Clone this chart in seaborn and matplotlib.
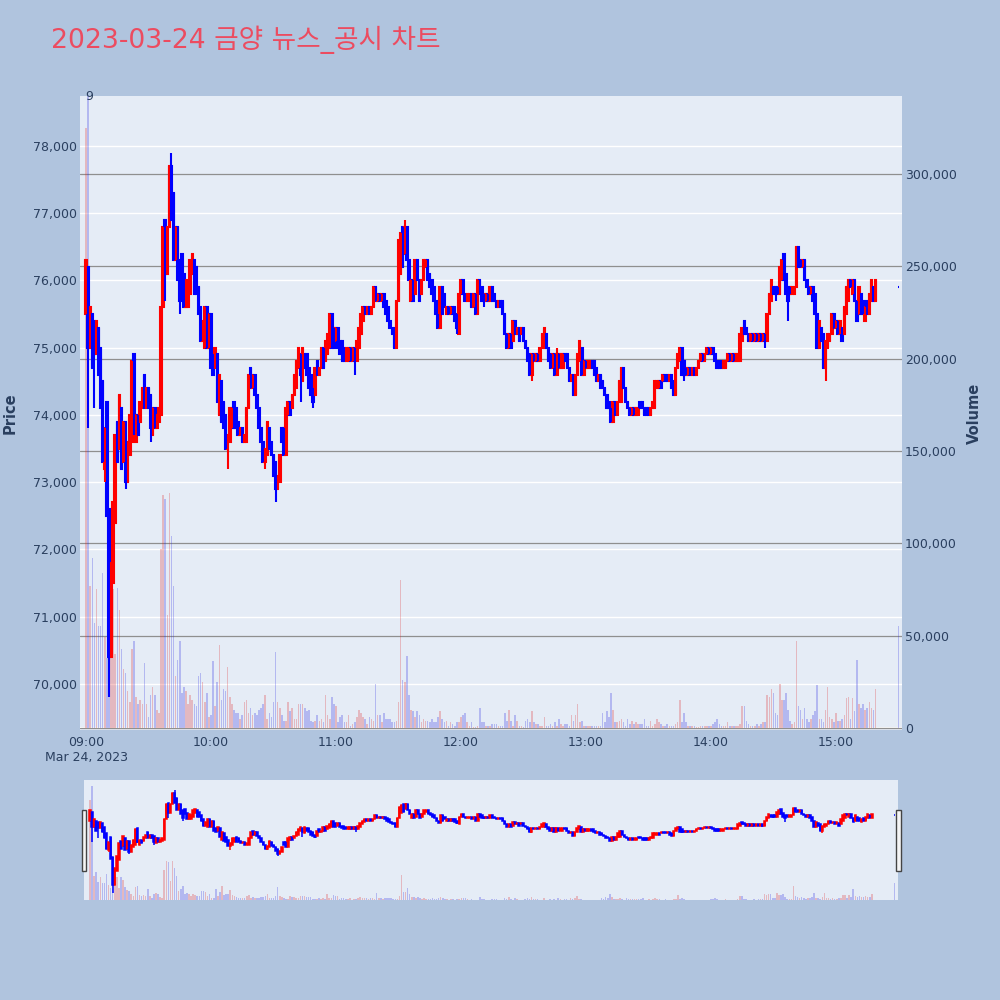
import numpy as np
import pandas as pd
import matplotlib.pyplot as plt
from matplotlib.patches import Rectangle
from matplotlib.ticker import FuncFormatter
import seaborn as sns

title = '2023-03-24 금양 뉴스_공시 차트'

# 분 인덱스 (0 = 09:00, 379 = 15:19, 390 = 15:30 종가 단일가)
minutes = list(range(380)) + [390]

opens = [
    75500, 76200, 75000, 75500, 75400, 74900, 75300, 75000, 74500, 73200,
    74200, 72600, 70400, 71500, 72400, 73900, 73500, 74100, 73300, 73900,
    73000, 73400, 73600, 74900, 73600, 74000, 73900, 74100, 74600, 74100,
    74400, 74300, 73700, 74100, 73800, 73900, 74000, 75600, 76900, 76100,
    76800, 77700, 77300, 76300, 76800, 76300, 76400, 76100, 75600, 75600,
    75800, 76100, 76300, 76200, 75900, 75600, 75100, 75000, 75600, 75000,
    75500, 74900, 74700, 74900, 74000, 74500, 74200, 74000, 73500, 73600,
    73800, 74200, 74100, 73900, 73700, 73800, 73600, 73600, 74100, 74700,
    74400, 74600, 74300, 74100, 73800, 73600, 73300, 73400, 73800, 73600,
    73400, 73300, 72900, 73000, 73800, 73800, 73400, 74000, 74200, 74100,
    74300, 74400, 74700, 74900, 74500, 74900, 74900, 74700, 74600, 74400,
    74300, 74800, 74600, 74700, 75000, 74800, 74900, 75000, 75500, 75300,
    75100, 75300, 75100, 75100, 75000, 74800, 74800, 75000, 74800, 75000,
    74800, 75000, 75200, 75400, 75600, 75500, 75600, 75500, 75600, 75900,
    75700, 75800, 75700, 75800, 75700, 75600, 75400, 75300, 75300, 75000,
    75700, 76100, 76800, 76400, 76800, 76300, 75700, 76000, 75800, 76300,
    76000, 75800, 76000, 76200, 76300, 76100, 76000, 75900, 75700, 75500,
    75300, 75900, 75800, 75500, 75600, 75500, 75600, 75600, 75500, 75200,
    75800, 76000, 75800, 75700, 75700, 75800, 75600, 75800, 75500, 76000,
    75900, 75800, 75700, 75800, 75700, 75900, 75800, 75700, 75600, 75700,
    75700, 75500, 75200, 75000, 75200, 75100, 75400, 75200, 75300, 75200,
    75300, 75100, 75000, 74900, 74600, 74900, 74800, 74900, 74800, 75000,
    75000, 75200, 75000, 74900, 74700, 74900, 74600, 74900, 74700, 74700,
    74900, 74900, 74700, 74500, 74600, 74300, 74600, 74800, 75000, 74600,
    74800, 74700, 74700, 74800, 74800, 74700, 74500, 74600, 74500, 74400,
    74300, 74200, 74100, 73900, 74200, 74000, 74200, 74200, 74700, 74400,
    74200, 74100, 74000, 74100, 74000, 74000, 74200, 74200, 74100, 74100,
    74100, 74000, 74100, 74100, 74400, 74400, 74500, 74500, 74600, 74600,
    74500, 74600, 74500, 74300, 74700, 74800, 75000, 74800, 74700, 74600,
    74700, 74600, 74700, 74600, 74700, 74800, 74900, 74800, 74900, 75000,
    74900, 75000, 74900, 74800, 74800, 74800, 74700, 74700, 74800, 74900,
    74800, 74900, 74800, 74800, 74800, 75100, 75400, 75300, 75200, 75100,
    75200, 75100, 75200, 75100, 75200, 75100, 75200, 75100, 75500, 75700,
    75900, 75900, 75900, 75800, 76000, 76400, 76100, 75900, 75900, 75800,
    75800, 75900, 76500, 76300, 76200, 76300, 76000, 75900, 75800, 75900,
    75800, 75500, 75000, 75300, 75200, 74700, 75000, 75100, 75200, 75500,
    75300, 75400, 75200, 75300, 75200, 75500, 75700, 76000, 75800, 76000,
    75700, 75500, 75800, 75700, 75400, 75700, 75500, 75700, 75900, 75700,
    75900,
]
closes = [
    76300, 75000, 75600, 74700, 74900, 75400, 74600, 74100, 73300, 73800,
    72500, 70400, 71800, 72700, 73700, 73300, 74300, 73200, 73900, 73000,
    73600, 74000, 74800, 73800, 74000, 73700, 74200, 74400, 74100, 74400,
    74100, 73800, 74100, 73800, 74000, 74100, 75600, 76800, 76100, 76800,
    77700, 76900, 76300, 76800, 76000, 75700, 76000, 75600, 76000, 75900,
    76300, 76400, 75800, 75800, 75500, 75100, 75400, 75600, 75000, 75500,
    74700, 74600, 75000, 74200, 74600, 73900, 73800, 73500, 73700, 74100,
    74100, 73800, 73800, 73700, 73800, 73600, 73700, 74100, 74600, 74400,
    74600, 74300, 74100, 73800, 73600, 73300, 73500, 73900, 73500, 73400,
    73100, 72900, 73100, 73400, 73600, 73400, 74100, 74200, 74000, 74300,
    74600, 74800, 75000, 74600, 75000, 74700, 74600, 74400, 74300, 74200,
    74700, 74600, 74700, 75000, 74700, 75100, 75200, 75500, 75000, 75000,
    75300, 75000, 74900, 74800, 74800, 75000, 75000, 74800, 75000, 74800,
    75100, 75300, 75500, 75600, 75500, 75600, 75500, 75600, 75900, 75700,
    75800, 75700, 75800, 75600, 75500, 75400, 75300, 75200, 75000, 75700,
    76600, 76700, 76200, 76800, 76300, 76000, 76000, 75700, 76300, 76000,
    75700, 76000, 76300, 76300, 76000, 75900, 75800, 75700, 75500, 75300,
    75900, 75500, 75600, 75600, 75500, 75600, 75500, 75400, 75300, 75800,
    76000, 75800, 75700, 75800, 75800, 75600, 75800, 75500, 76000, 75800,
    75700, 75700, 75800, 75700, 75900, 75700, 75700, 75600, 75700, 75600,
    75500, 75200, 75000, 75200, 75000, 75400, 75200, 75300, 75100, 75300,
    75100, 75000, 74800, 74600, 74900, 74800, 74900, 74800, 75000, 75200,
    75300, 75000, 74800, 74700, 74900, 74600, 74900, 74700, 74900, 74900,
    74800, 74700, 74500, 74600, 74300, 74600, 74900, 75100, 74600, 74800,
    74700, 74800, 74800, 74700, 74600, 74500, 74600, 74400, 74400, 74300,
    74100, 74100, 73900, 74200, 74000, 74200, 74500, 74700, 74400, 74200,
    74100, 74000, 74100, 74000, 74100, 74100, 74100, 74100, 74000, 74000,
    74000, 74100, 74200, 74500, 74500, 74500, 74400, 74600, 74500, 74500,
    74600, 74400, 74300, 74700, 74900, 75000, 74600, 74600, 74600, 74700,
    74600, 74700, 74600, 74700, 74800, 74900, 74800, 74900, 75000, 74900,
    75000, 74900, 74800, 74700, 74700, 74700, 74800, 74800, 74900, 74800,
    74900, 74800, 74900, 74900, 75200, 75300, 75200, 75200, 75100, 75200,
    75100, 75200, 75100, 75200, 75100, 75200, 75100, 75500, 75800, 76000,
    75800, 75800, 75800, 76200, 76300, 76000, 75800, 75700, 75800, 75900,
    75900, 76500, 76200, 76200, 76300, 76000, 75900, 75800, 75900, 75700,
    75500, 75000, 75400, 75100, 74700, 75100, 75200, 75200, 75500, 75300,
    75400, 75200, 75400, 75100, 75600, 75900, 76000, 75900, 76000, 75700,
    75400, 75900, 75500, 75500, 75600, 75500, 75800, 76000, 75700, 76000,
    75900,
]
# 몸통 밖으로 나온 꼬리
wick_high = {41: 77900, 153: 76900, 226: 75000, 316: 75400}
wick_low = {1: 73800, 4: 74100, 9: 73000, 11: 69800, 19: 72900, 23: 73700,
            31: 73600, 38: 75700, 45: 75500, 68: 73200, 86: 73200, 91: 72700,
            103: 74200, 109: 74100, 129: 74600, 178: 75200, 191: 75600,
            214: 74500, 287: 74500, 326: 75000, 331: 75700, 337: 75400,
            355: 74500}
# 거래량 (천 주)
volume_k = [
    325, 370, 77, 92, 57, 75, 55, 55, 84, 49,
    38, 68, 50, 75, 40, 76, 64, 43, 32, 30,
    20, 14, 43, 47, 17, 13, 15, 13, 35, 13,
    6, 18, 22, 18, 10, 8, 97, 126, 124, 61,
    127, 104, 77, 28, 37, 47, 19, 22, 20, 13,
    18, 15, 13, 12, 28, 30, 25, 14, 19, 6,
    7, 36, 12, 25, 45, 15, 21, 20, 33, 17,
    13, 10, 8, 8, 5, 7, 14, 15, 8, 11,
    7, 8, 7, 10, 11, 13, 18, 5, 8, 6,
    14, 41, 14, 11, 7, 4, 4, 14, 9, 11,
    5, 5, 13, 13, 13, 11, 9, 10, 4, 3,
    4, 7, 4, 5, 3, 18, 7, 5, 17, 13,
    12, 3, 6, 7, 3, 3, 7, 1, 2, 3,
    6, 10, 8, 6, 5, 2, 6, 5, 4, 24,
    7, 7, 3, 8, 5, 5, 5, 3, 3, 4,
    14, 80, 26, 25, 39, 18, 10, 9, 6, 9,
    7, 3, 5, 4, 4, 3, 5, 3, 3, 6,
    9, 5, 3, 4, 1, 3, 2, 1, 3, 3,
    6, 7, 8, 3, 1, 3, 0.5, 0.5, 1, 11,
    3, 3, 1, 1, 1, 2, 2, 2, 1, 1,
    1, 8, 4, 10, 4, 1, 7, 4, 1, 1,
    0.5, 4, 5, 3, 9, 3, 2, 2, 1, 1,
    6, 1, 1, 2, 1, 3, 1, 5, 2, 1,
    2, 2, 1, 7, 4, 7, 13, 3, 4, 1,
    1, 1, 1, 1, 1, 1, 1, 1, 8, 3,
    9, 6, 19, 10, 3, 3, 4, 5, 3, 1,
    5, 2, 4, 2, 3, 2, 2, 2, 5, 1,
    1, 4, 1, 2, 5, 3, 2, 1, 1, 2,
    1, 1, 1, 2, 3, 15, 3, 8, 3, 1,
    1, 1, 1, 0.5, 0.5, 1, 1, 1, 1, 1,
    1, 2, 3, 5, 2, 1, 1, 1, 3, 1,
    1, 1, 1, 1, 2, 12, 12, 4, 2, 1,
    1, 1, 2, 1, 2, 3, 3, 18, 17, 21,
    19, 8, 7, 24, 15, 15, 19, 10, 4, 2,
    3, 47, 12, 10, 5, 11, 5, 3, 5, 7,
    9, 23, 5, 5, 3, 10, 22, 6, 5, 3,
    8, 4, 4, 5, 7, 16, 17, 5, 16, 9,
    37, 13, 11, 13, 10, 11, 14, 11, 10, 21,
    55,
]

time_ticks = [0, 60, 120, 180, 240, 300, 360]
time_labels = ['09:00\nMar 24, 2023', '10:00', '11:00', '12:00', '13:00', '14:00', '15:00']
price_ticks = [70000, 71000, 72000, 73000, 74000, 75000, 76000, 77000, 78000]
volume_ticks = [0, 50000, 100000, 150000, 200000, 250000, 300000]

df = pd.DataFrame({'minute': minutes, 'open': opens, 'close': closes})
df['volume'] = np.array(volume_k) * 1000
df['high'] = df[['open', 'close']].max(axis=1)
df['low'] = df[['open', 'close']].min(axis=1)
for m, v in wick_high.items():
    df.loc[df['minute'] == m, 'high'] = v
for m, v in wick_low.items():
    df.loc[df['minute'] == m, 'low'] = v
df['dir'] = np.where(df['close'] > df['open'], 'up', 'down')

RED, BLUE = '#FF0000', '#0000FF'
palette = {'up': RED, 'down': BLUE}
TXT = '#2a3f5f'

sns.set_theme(style='darkgrid', rc={'axes.facecolor': '#E5ECF6',
                                    'figure.facecolor': '#B0C4DE',
                                    'grid.color': 'white'})
plt.rcParams['font.family'] = ['DejaVu Sans', 'Noto Sans CJK KR']

fig = plt.figure(figsize=(10, 10), dpi=100)
XLIM = (-2.9, 391.7)


def panel(rect, price_lim, vol_lim, lw, main):
    ax_p = fig.add_axes(rect)
    ax_v = ax_p.twinx()
    ax_c = fig.add_axes(rect, sharex=ax_p, sharey=ax_p)
    ax_c.patch.set_visible(False)
    ax_c.axis('off')

    # 거래량
    sns.barplot(data=df, x='minute', y='volume', hue='dir', palette=palette,
                native_scale=True, dodge=False, errorbar=None, legend=False,
                width=0.75, alpha=0.25, linewidth=0, ax=ax_v)

    # 캔들
    colors = df['dir'].map(palette).tolist()
    ax_c.vlines(df['minute'], df['low'], df['high'], colors=colors, linewidth=lw)
    ax_c.bar(df['minute'], (df['close'] - df['open']).abs(),
             bottom=df[['open', 'close']].min(axis=1), width=0.7,
             color=colors, edgecolor=colors, linewidth=lw)

    ax_p.set_xlim(*XLIM)
    ax_p.set_ylim(*price_lim)
    ax_v.set_ylim(*vol_lim)
    for a in (ax_p, ax_v, ax_c):
        for s in a.spines.values():
            s.set_visible(False)
    ax_v.set_xlabel('')
    ax_v.set_ylabel('')
    ax_p.set_xlabel('')
    ax_p.set_ylabel('')

    if main:
        ax_p.grid(axis='x', visible=False)
        ax_p.grid(axis='y', color='white', linewidth=1.0)
        ax_p.set_yticks(price_ticks)
        ax_p.yaxis.set_major_formatter(FuncFormatter(lambda v, p: f'{v:,.0f}'))
        ax_p.set_xticks(time_ticks)
        ax_p.set_xticklabels(time_labels)
        ax_p.tick_params(axis='both', labelsize=9, colors=TXT, length=0)
        ax_p.tick_params(axis='y', pad=2)
        ax_p.tick_params(axis='x', pad=4)

        ax_v.grid(axis='x', visible=False)
        ax_v.grid(axis='y', color='#8f8f8f', linewidth=0.9)
        ax_v.set_axisbelow(True)
        ax_v.set_yticks(volume_ticks)
        ax_v.yaxis.set_major_formatter(FuncFormatter(lambda v, p: f'{v:,.0f}'))
        ax_v.tick_params(axis='y', labelsize=9, colors=TXT, length=0, pad=2)
        ax_v.tick_params(axis='x', bottom=False, labelbottom=False)
        ax_v.axhline(0, color='white', linewidth=1.5, zorder=0.5)
    else:
        for a in (ax_p, ax_v):
            a.grid(False)
            a.set_xticks([])
            a.set_yticks([])
    ax_v.set_xlim(*XLIM)


# 메인 차트
panel([0.080, 0.270, 0.822, 0.634], (69316, 78743), (-1100, 342200), 1.5, True)
# 레인지 슬라이더
panel([0.084, 0.100, 0.814, 0.120], (69250, 78690), (0, 390000), 1.1, False)

for x0 in (0.0815, 0.896):
    fig.patches.append(Rectangle((x0, 0.129), 0.0045, 0.061, transform=fig.transFigure,
                                 facecolor='#f5f5f5', edgecolor='#444444', linewidth=1.0))

fig.text(0.051, 0.960, title, fontsize=19.2, color='#EC4C60', ha='left', va='center')
fig.text(0.089, 0.903, '9', fontsize=9, color=TXT, ha='center', va='center')
fig.text(0.010, 0.587, 'Price', rotation=90, fontsize=10.5, fontweight='bold',
         color=TXT, ha='center', va='center')
fig.text(0.974, 0.587, 'Volume', rotation=90, fontsize=10.5, fontweight='bold',
         color=TXT, ha='center', va='center')

fig.savefig('out.png', dpi=100, facecolor=fig.get_facecolor())
